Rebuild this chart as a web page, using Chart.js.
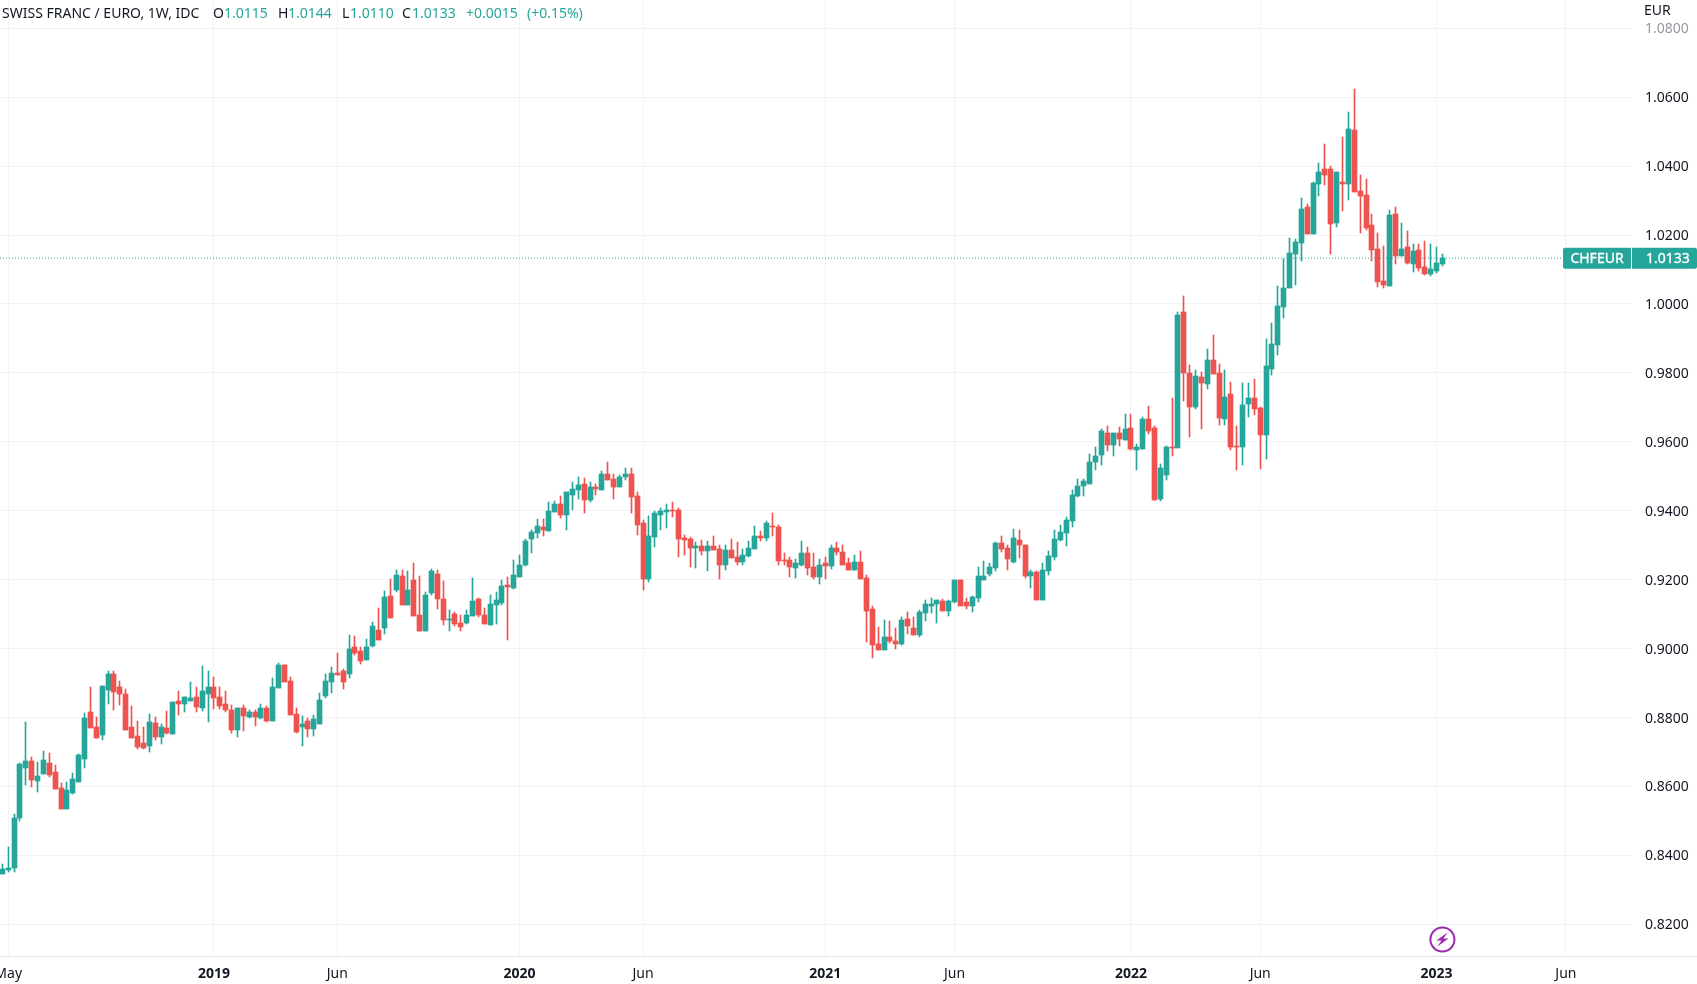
<!DOCTYPE html>
<html><head><meta charset="utf-8">
<style>html,body{margin:0;padding:0;background:#fff;overflow:hidden}canvas{display:block}</style>
<script src="https://cdn.jsdelivr.net/npm/chart.js@4"></script>
</head><body><canvas id="c" width="1697" height="984"></canvas>
<script>
const opens=[.8346,.8358,.8363,.8508,.8653,.8673,.8615,.8636,.8668,.8642,
.8595,.8534,.8581,.8613,.8679,.8815,.8772,.8749,.8879,.8926,
.8888,.8868,.8772,.8746,.8726,.8717,.8784,.8743,.8769,.8752,
.8847,.8839,.8847,.8859,.8827,.8868,.8888,.8859,.8839,.8821,
.8763,.8827,.8801,.8815,.8798,.8827,.8789,.8885,.8952,.8905,
.8810,.8772,.8789,.8766,.8781,.8862,.8902,.8928,.8934,.8926,
.9004,.8992,.8966,.9007,.9053,.9061,.9153,.9170,.9210,.9126,
.9198,.9097,.9050,.9160,.9215,.9143,.9082,.9100,.9073,.9073,
.9094,.9143,.9097,.9068,.9126,.9131,.9184,.9175,.9207,.9242,
.9317,.9334,.9352,.9340,.9395,.9421,.9389,.9447,.9459,.9479,
.9430,.9470,.9459,.9508,.9491,.9470,.9497,.9508,.9444,.9363,
.9201,.9323,.9389,.9395,.9401,.9401,.9320,.9317,.9291,.9297,
.9282,.9297,.9288,.9242,.9285,.9265,.9250,.9268,.9288,.9326,
.9320,.9357,.9352,.9256,.9256,.9233,.9244,.9276,.9236,.9207,
.9247,.9239,.9291,.9279,.9247,.9227,.9250,.9204,.9116,.9013,
.8995,.9033,.9022,.9013,.9086,.9060,.9039,.9104,.9125,.9128,
.9139,.9110,.9136,.9198,.9136,.9125,.9148,.9198,.9215,.9233,
.9305,.9291,.9250,.9314,.9300,.9210,.9221,.9142,.9224,.9265,
.9314,.9334,.9369,.9444,.9473,.9479,.9540,.9563,.9627,.9592,
.9627,.9604,.9639,.9575,.9578,.9665,.9639,.9433,.9505,.9586,
.9581,.9978,.9801,.9700,.9789,.9769,.9836,.9801,.9665,.9740,
.9589,.9584,.9711,.9728,.9697,.9621,.9810,.9882,.9992,1.0047,
1.0146,1.0178,1.0282,1.0204,1.0349,1.0392,1.0392,1.0236,1.0355,1.0349,
1.0505,1.0329,1.0317,1.0230,1.0160,1.0068,1.0053,1.0262,1.0140,1.0166,
1.0117,1.0158,1.0108,1.0088,1.0097,1.0115];
const closes=[.8360,.8363,.8508,.8665,.8673,.8618,.8630,.8676,.8633,.8592,
.8534,.8589,.8621,.8691,.8798,.8769,.8740,.8891,.8926,.8873,
.8868,.8763,.8740,.8714,.8711,.8786,.8743,.8772,.8755,.8844,
.8839,.8859,.8856,.8830,.8876,.8888,.8856,.8833,.8821,.8763,
.8827,.8804,.8815,.8801,.8827,.8789,.8888,.8952,.8902,.8807,
.8757,.8781,.8766,.8795,.8850,.8905,.8928,.8923,.8902,.8998,
.8986,.8963,.9004,.9065,.9024,.9150,.9090,.9214,.9126,.9169,
.9094,.9050,.9155,.9224,.9143,.9082,.9085,.9071,.9062,.9097,
.9137,.9097,.9071,.9129,.9140,.9181,.9178,.9213,.9244,.9311,
.9337,.9355,.9343,.9398,.9421,.9389,.9453,.9462,.9476,.9430,
.9470,.9462,.9508,.9488,.9470,.9499,.9508,.9439,.9360,.9201,
.9326,.9392,.9398,.9401,.9398,.9317,.9314,.9291,.9297,.9282,
.9297,.9285,.9242,.9285,.9262,.9250,.9271,.9291,.9326,.9320,
.9363,.9352,.9253,.9253,.9236,.9247,.9276,.9233,.9207,.9244,
.9239,.9291,.9279,.9244,.9227,.9250,.9201,.9110,.9010,.8995,
.9033,.9022,.9013,.9083,.9066,.9039,.9107,.9128,.9130,.9142,
.9110,.9139,.9198,.9125,.9125,.9151,.9210,.9210,.9236,.9305,
.9288,.9259,.9320,.9300,.9210,.9221,.9142,.9227,.9268,.9317,
.9337,.9372,.9447,.9473,.9485,.9540,.9560,.9630,.9592,.9627,
.9607,.9636,.9578,.9584,.9665,.9630,.9430,.9523,.9586,.9581,
.9969,.9801,.9700,.9792,.9772,.9836,.9798,.9668,.9731,.9586,
.9584,.9708,.9728,.9694,.9621,.9821,.9885,.9995,1.0047,1.0149,
1.0181,1.0276,1.0204,1.0352,1.0384,1.0375,1.0233,1.0384,1.0349,1.0508,
1.0326,1.0314,1.0221,1.0158,1.0065,1.0056,1.0259,1.0140,1.0160,1.0120,
1.0155,1.0105,1.0088,1.0100,1.0120,1.0133];
const highs=[.8375,.8424,.8520,.8668,.8786,.8685,.8671,.8702,.8697,.8662,
.8610,.8613,.8639,.8694,.8813,.8888,.8801,.8891,.8934,.8934,
.8905,.8882,.8833,.8789,.8772,.8810,.8801,.8781,.8818,.8844,
.8876,.8859,.8902,.8888,.8949,.8934,.8917,.8888,.8876,.8836,
.8827,.8836,.8821,.8821,.8839,.8833,.8914,.8957,.8952,.8917,
.8827,.8804,.8798,.8807,.8870,.8926,.8946,.8986,.8940,.9039,
.9036,.9004,.9027,.9076,.9117,.9167,.9202,.9228,.9227,.9224,
.9247,.9210,.9163,.9230,.9227,.9195,.9111,.9105,.9097,.9111,
.9204,.9146,.9117,.9155,.9163,.9198,.9207,.9256,.9273,.9317,
.9343,.9375,.9375,.9424,.9427,.9444,.9453,.9482,.9499,.9494,
.9482,.9479,.9514,.9540,.9508,.9505,.9523,.9523,.9453,.9372,
.9384,.9398,.9407,.9421,.9424,.9407,.9331,.9323,.9308,.9314,
.9311,.9326,.9302,.9300,.9317,.9308,.9288,.9311,.9355,.9340,
.9369,.9392,.9360,.9276,.9265,.9259,.9311,.9294,.9276,.9259,
.9265,.9300,.9308,.9300,.9262,.9271,.9282,.9213,.9125,.9063,
.9083,.9080,.9060,.9092,.9107,.9092,.9113,.9142,.9148,.9142,
.9145,.9142,.9198,.9198,.9148,.9154,.9236,.9253,.9247,.9308,
.9328,.9302,.9346,.9343,.9302,.9227,.9224,.9247,.9282,.9343,
.9360,.9381,.9459,.9491,.9491,.9566,.9586,.9636,.9647,.9627,
.9644,.9682,.9682,.9595,.9673,.9705,.9647,.9537,.9589,.9726,
.9978,1.0024,.9824,.9807,.9804,.9868,.9911,.9827,.9807,.9775,
.9647,.9772,.9772,.9781,.9700,.9897,.9946,1.0053,1.0131,1.0192,
1.0189,1.0308,1.0291,1.0355,1.0410,1.0465,1.0401,1.0384,1.0485,1.0557,
1.0624,1.0375,1.0363,1.0262,1.0207,1.0169,1.0273,1.0282,1.0236,1.0213,
1.0175,1.0175,1.0184,1.0175,1.0166,1.0144];
const lows=[.8346,.8352,.8352,.8500,.8604,.8598,.8584,.8636,.8627,.8592,
.8534,.8534,.8578,.8613,.8653,.8769,.8740,.8734,.8839,.8821,
.8836,.8763,.8740,.8708,.8708,.8699,.8734,.8723,.8752,.8752,
.8807,.8815,.8847,.8815,.8818,.8786,.8824,.8824,.8815,.8755,
.8743,.8760,.8798,.8775,.8795,.8786,.8789,.8885,.8902,.8807,
.8755,.8717,.8743,.8746,.8781,.8856,.8870,.8923,.8882,.8914,
.8981,.8955,.8966,.9004,.9024,.9041,.9090,.9164,.9126,.9126,
.9094,.9050,.9050,.9155,.9114,.9068,.9050,.9065,.9050,.9071,
.9094,.9091,.9071,.9068,.9071,.9126,.9024,.9172,.9207,.9239,
.9276,.9320,.9328,.9340,.9395,.9378,.9343,.9401,.9433,.9392,
.9424,.9447,.9459,.9488,.9433,.9470,.9488,.9392,.9331,.9169,
.9192,.9294,.9343,.9349,.9381,.9265,.9271,.9236,.9233,.9271,
.9224,.9285,.9201,.9227,.9262,.9244,.9242,.9265,.9288,.9311,
.9311,.9328,.9244,.9242,.9207,.9204,.9239,.9213,.9201,.9186,
.9201,.9230,.9273,.9244,.9227,.9227,.9201,.9019,.8972,.8995,
.8995,.9016,.8998,.9010,.9042,.9039,.9033,.9080,.9104,.9075,
.9110,.9095,.9133,.9125,.9116,.9107,.9136,.9198,.9210,.9224,
.9279,.9227,.9247,.9262,.9204,.9177,.9142,.9142,.9213,.9256,
.9311,.9297,.9352,.9439,.9442,.9479,.9517,.9534,.9572,.9560,
.9589,.9604,.9575,.9517,.9578,.9624,.9430,.9427,.9488,.9560,
.9581,.9717,.9615,.9694,.9636,.9752,.9798,.9650,.9650,.9575,
.9517,.9534,.9671,.9679,.9520,.9549,.9795,.9853,.9960,1.0047,
1.0056,1.0126,1.0204,1.0204,1.0314,1.0346,1.0146,1.0224,1.0271,1.0302,
1.0326,1.0207,1.0215,1.0126,1.0050,1.0045,1.0053,1.0117,1.0140,1.0117,
1.0094,1.0097,1.0085,1.0082,1.0091,1.0110];
const yTicks=[0.82,0.84,0.86,0.88,0.90,0.92,0.94,0.96,0.98,1.00,1.02,1.04,1.06,1.08];
const xTickBars=[1,36,57,88,109,140,162,192,214,244,266];
const xTickLabels=['May','2019','Jun','2020','Jun','2021','Jun','2022','Jun','2023','Jun'];
const ohlcLegend=[['O','1.0115'],['H','1.0144'],['L','1.0110'],['C','1.0133']];
const legendTitle='SWISS FRANC / EURO, 1W, IDC';
const legendChange=['+0.0015','(+0.15%)'];
const symbol='CHFEUR', lastLabel='1.0133', currency='EUR';

const UP='#26a69a', DOWN='#ef5350', INK='#131722', GRID='#f2f3f5', FONT='"Noto Sans"';
const colors=opens.map((o,i)=>closes[i]>=o?UP:DOWN);
const X_MIN=-0.391, X_MAX=277.25, Y_MIN=0.8108, Y_MAX=1.0882;
const last=closes.length-1;

// Keep candles crisp: snap the library-computed bar pixels to the device grid.
const snap={id:'snap',afterDatasetsUpdate(ch){
  ch.data.datasets.forEach((d,k)=>{
    const m=ch.getDatasetMeta(k);
    if(m.type!=='bar')return;
    m.data.forEach(el=>{
      el.x=Math.floor(el.x)+0.5;
      let a=Math.round(el.y),b=Math.round(el.base);
      if(a===b)a=b-1;
      el.y=a;el.base=b;
    });
  });
}};

const overlay={id:'overlay',afterDraw(ch){
  const c=ch.ctx,xs=ch.scales.x,ys=ch.scales.y;
  c.save();
  c.textBaseline='middle';c.textAlign='left';
  // legend
  c.font='14px '+FONT;c.fillStyle=INK;
  c.fillText(legendTitle,2,14);
  const lx=[213,278,342,402],vx=[224,288,350,412];
  ohlcLegend.forEach((p,i)=>{c.fillStyle=INK;c.fillText(p[0],lx[i],14);c.fillStyle=UP;c.fillText(p[1],vx[i],14);});
  c.fillStyle=UP;c.fillText(legendChange[0],466,14);c.fillText(legendChange[1],527,14);
  // currency
  c.fillStyle=INK;c.font='14px '+FONT;c.fillText(currency,1644,11);
  // axis line continuing under the price scale
  c.strokeStyle='#e0e3eb';c.lineWidth=1;
  c.beginPath();c.moveTo(1634,ch.chartArea.bottom+0.5);c.lineTo(1697,ch.chartArea.bottom+0.5);c.stroke();
  // last price tags
  const y=ys.getPixelForValue(closes[last]);
  c.fillStyle=UP;
  c.beginPath();c.roundRect(1563,y-10.5,68,21,[2,0,0,2]);c.fill();
  c.beginPath();c.roundRect(1632,y-10.5,65,21,[0,2,2,0]);c.fill();
  c.fillStyle='#fff';c.strokeStyle='#fff';c.lineWidth=0.3;c.font='14px '+FONT;
  c.textAlign='center';c.fillText(symbol,1597,y+1);c.strokeText(symbol,1597,y+1);
  c.textAlign='left';c.fillText(lastLabel,1646,y+1);c.strokeText(lastLabel,1646,y+1);
  // event marker
  const mx=xs.getPixelForValue(last),my=939.5;
  c.strokeStyle='#9c27b0';c.fillStyle='#9c27b0';c.lineWidth=2;
  c.beginPath();c.arc(mx,my,12,0,Math.PI*2);c.stroke();
  c.beginPath();
  [[5,-7],[-6,1],[-1,1],[-5,7],[6,-1],[1,-1]].forEach((p,i)=>i?c.lineTo(mx+p[0],my+p[1]):c.moveTo(mx+p[0],my+p[1]));
  c.closePath();c.fill();
  c.restore();
}};

new Chart(document.getElementById('c'),{
  type:'bar',
  data:{datasets:[
    {type:'line',data:[{x:X_MIN,y:closes[last]},{x:X_MAX,y:closes[last]}],borderColor:UP,borderWidth:1,borderDash:[1,2],pointRadius:0,order:5},
    {label:'body',data:opens.map((o,i)=>({x:i,y:[o,closes[i]]})),backgroundColor:colors,barThickness:5,grouped:false,order:1,borderWidth:0},
    {label:'wick',data:highs.map((h,i)=>({x:i,y:[lows[i],h]})),backgroundColor:colors,barThickness:1,grouped:false,order:2,borderWidth:0}
  ]},
  options:{
    responsive:false,animation:false,devicePixelRatio:1,
    layout:{padding:0},
    plugins:{legend:{display:false},tooltip:{enabled:false},title:{display:false}},
    scales:{
      x:{type:'linear',min:X_MIN,max:X_MAX,offset:false,
        grid:{color:GRID,offset:false,drawTicks:false},
        border:{display:true,color:'#e0e3eb'},
        afterBuildTicks(s){s.ticks=xTickBars.map(v=>({value:v}));},
        afterFit(s){s.height=28;s.paddingLeft=0;s.paddingRight=0;},
        ticks:{autoSkip:false,maxRotation:0,padding:10,color:INK,
          font:ctx=>({family:FONT,size:14,weight:/^\d/.test(xTickLabels[ctx.index]||'')?'bold':'normal'}),
          callback:(v,i)=>xTickLabels[i]}},
      y:{type:'linear',position:'right',min:Y_MIN,max:Y_MAX,
        grid:{color:GRID,drawTicks:false},
        border:{display:false},
        afterBuildTicks(s){s.ticks=yTicks.map(v=>({value:v}));},
        afterFit(s){s.width=65;s.paddingTop=0;s.paddingBottom=0;},
        ticks:{autoSkip:false,padding:13,labelOffset:1,
          color:ctx=>ctx.tick&&ctx.tick.value>1.07?'#9598a1':INK,
          font:{family:FONT,size:14},
          callback:v=>v.toFixed(4)}}
    }
  },
  plugins:[snap,overlay]
});
</script></body></html>
